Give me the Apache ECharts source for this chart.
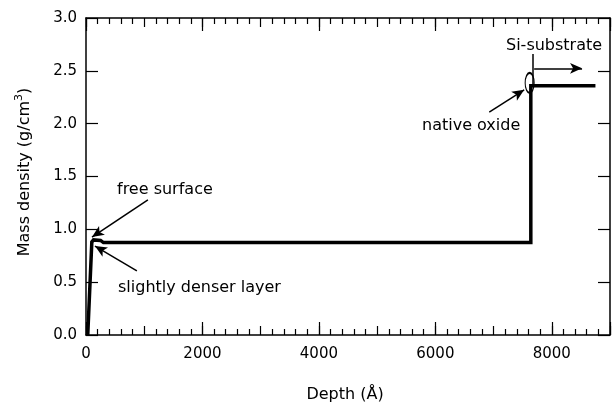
<!DOCTYPE html>
<html>
<head>
<meta charset="utf-8">
<script src="https://cdn.jsdelivr.net/npm/echarts@6/dist/echarts.min.js"></script>
<style>
  html, body { margin: 0; padding: 0; background: #fff; }
  #chart { width: 613px; height: 406px; }
</style>
</head>
<body>
<div id="chart"></div>
<script>
// Mass density profile versus depth
const depth   = [30, 100, 130, 250, 300, 7640, 7640, 8750];
const density = [0, 0.88, 0.9, 0.895, 0.875, 0.875, 2.36, 2.36];

const xTickLabels = ['0', '2000', '4000', '6000', '8000'];
const yTickLabels = ['0.0', '0.5', '1.0', '1.5', '2.0', '2.5', '3.0'];

// Annotation arrows: [tail, tip] in data coordinates
const arrowFreeSurface = [[1063, 1.278], [103, 0.927]];
const arrowDenserLayer = [[874, 0.606], [154, 0.842]];
const arrowNativeOxide = [[6926, 2.11], [7526, 2.32]];
const arrowSubstrate   = [[7697, 2.524], [8520, 2.524]];
const substrateMarker  = [[7680, 2.66], [7680, 2.36]];
const oxideEllipse     = [7620, 2.385];

const FONT = 'DejaVu Sans';
const black = '#000';

const chart = echarts.init(document.getElementById('chart'), null, { renderer: 'canvas' });

function xAxisBase(position, interval, tickLen, withLine, withLabels, withMinor) {
  return {
    type: 'value', position, min: 0, max: 9000, interval,
    axisLine: { show: withLine, onZero: false, lineStyle: { color: black, width: 1.5 } },
    axisTick: { show: true, inside: true, length: tickLen, lineStyle: { color: black, width: 1.2 } },
    minorTick: { show: withMinor, splitNumber: 5, length: 6, lineStyle: { color: black, width: 1.2 } },
    splitLine: { show: false },
    axisLabel: {
      show: withLabels, margin: 12, color: black, fontFamily: FONT, fontSize: 15,
      formatter: v => (xTickLabels.indexOf(String(v)) >= 0 ? String(v) : '')
    }
  };
}

function yAxisBase(position, withLabels) {
  return {
    type: 'value', position, min: 0, max: 3, interval: 0.5,
    axisLine: { show: true, onZero: false, lineStyle: { color: black, width: 1.5 } },
    axisTick: { show: true, inside: true, length: 12, lineStyle: { color: black, width: 1.2 } },
    splitLine: { show: false },
    axisLabel: {
      show: withLabels, margin: 9, color: black, fontFamily: FONT, fontSize: 15,
      formatter: v => yTickLabels[Math.round(v / 0.5)] || ''
    }
  };
}

const arrowEnd = { symbol: 'arrow', symbolSize: [8, 12] };
function arrowLine(seg) {
  return [{ coord: seg[0], symbol: 'none' }, Object.assign({ coord: seg[1] }, arrowEnd)];
}

chart.setOption({
  animation: false,
  backgroundColor: '#fff',
  grid: { left: 86, right: 2, top: 18, bottom: 71 },
  xAxis: [
    xAxisBase('bottom', 1000, 9, true, true, true),
    xAxisBase('bottom', 2000, 13, false, false, false),
    xAxisBase('top', 1000, 9, true, false, true),
    xAxisBase('top', 2000, 13, false, false, false)
  ],
  yAxis: [yAxisBase('left', true), yAxisBase('right', false)],
  series: [{
    type: 'line',
    xAxisIndex: 0, yAxisIndex: 0,
    data: depth.map((d, i) => [d, density[i]]),
    symbol: 'none',
    lineStyle: { color: black, width: 3.5, join: 'miter' },
    silent: true,
    markLine: {
      silent: true,
      label: { show: false },
      lineStyle: { color: black, width: 1.5, type: 'solid' },
      data: [
        arrowLine(arrowFreeSurface),
        arrowLine(arrowDenserLayer),
        arrowLine(arrowNativeOxide),
        arrowLine(arrowSubstrate),
        [{ coord: substrateMarker[0], symbol: 'none' }, { coord: substrateMarker[1], symbol: 'none' }]
      ]
    },
    markPoint: {
      silent: true,
      symbol: 'circle',
      symbolSize: [9, 20],
      itemStyle: { color: 'rgba(0,0,0,0)', borderColor: black, borderWidth: 1.5 },
      label: { show: false },
      data: [{ coord: oxideEllipse }]
    }
  }],
  graphic: [
    {
      type: 'text', x: 25, y: 172, rotation: Math.PI / 2,
      style: {
        text: '{a|Mass density (g/cm}{s|3}{a|)}',
        align: 'center', verticalAlign: 'middle', fill: black,
        rich: {
          a: { fontFamily: FONT, fontSize: 16, lineHeight: 22, fill: black },
          s: { fontFamily: FONT, fontSize: 11, lineHeight: 22, verticalAlign: 'top', fill: black }
        }
      }
    },
    { type: 'text', x: 345, y: 395,
      style: { text: 'Depth (Å)', font: '16px "DejaVu Sans"', fill: black, align: 'center', verticalAlign: 'middle' } },
    { type: 'text', x: 117, y: 190,
      style: { text: 'free surface', font: '16px "DejaVu Sans"', fill: black, align: 'left', verticalAlign: 'middle' } },
    { type: 'text', x: 118, y: 288,
      style: { text: 'slightly denser layer', font: '16px "DejaVu Sans"', fill: black, align: 'left', verticalAlign: 'middle' } },
    { type: 'text', x: 422, y: 126,
      style: { text: 'native oxide', font: '16px "DejaVu Sans"', fill: black, align: 'left', verticalAlign: 'middle' } },
    { type: 'text', x: 506, y: 46,
      style: { text: 'Si-substrate', font: '16px "DejaVu Sans"', fill: black, align: 'left', verticalAlign: 'middle' } }
  ]
});
</script>
</body>
</html>
